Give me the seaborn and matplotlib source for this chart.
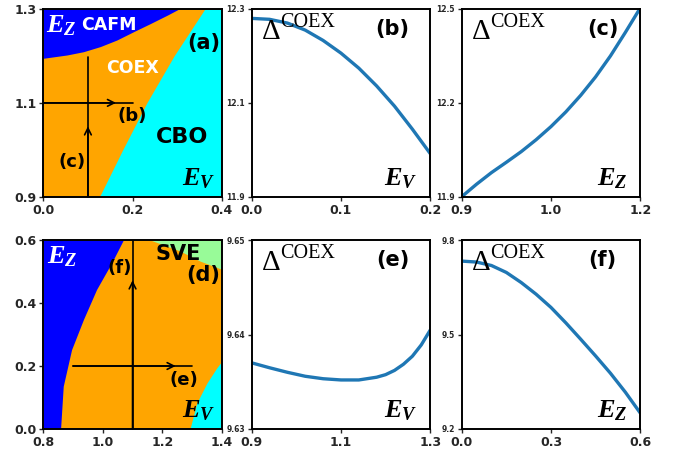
import numpy as np
import pandas as pd
import matplotlib
matplotlib.use("Agg")
import matplotlib.pyplot as plt
import seaborn as sns

# ---------------- data ----------------
# panel (a) phase boundaries (E_V, E_Z)
a_cafm_ev = [0.0, 0.053, 0.09, 0.128, 0.165, 0.203, 0.240, 0.278, 0.304]
a_cafm_ez = [1.195, 1.202, 1.209, 1.220, 1.234, 1.252, 1.269, 1.287, 1.300]
a_cbo_ez = [0.9, 1.0, 1.1, 1.2, 1.3]
a_cbo_ev = [0.126, 0.178, 0.232, 0.293, 0.362]

# panel (d) phase boundaries
d_afm_ez = [0.0, 0.136, 0.252, 0.348, 0.443, 0.528, 0.6]
d_afm_ev = [0.858, 0.867, 0.895, 0.935, 0.979, 1.030, 1.069]
d_sve_ev = [1.159, 1.26, 1.327, 1.4]
d_sve_ez = [0.6, 0.565, 0.533, 0.507]
d_cbo_ev = [1.293, 1.316, 1.35, 1.383, 1.4]
d_cbo_ez = [0.0, 0.083, 0.146, 0.194, 0.215]

# panel (b): Delta vs E_V at E_Z = 1.1
b_ev = [0.0, 0.02, 0.04, 0.06, 0.08, 0.1, 0.12, 0.14, 0.16, 0.18, 0.2]
b_delta = [12.280, 12.278, 12.270, 12.255, 12.233, 12.206, 12.174, 12.136,
           12.093, 12.044, 11.992]

# panel (c): Delta vs E_Z at E_V = 0.1
c_ez = [0.9, 0.925, 0.95, 0.975, 1.0, 1.025, 1.05, 1.075, 1.1, 1.125, 1.15, 1.175, 1.2]
c_delta = [11.900, 11.940, 11.977, 12.010, 12.044, 12.082, 12.124, 12.171, 12.224,
           12.283, 12.350, 12.425, 12.503]

# panel (e): Delta vs E_V at E_Z = 0.2
e_ev = [0.9, 0.94, 0.98, 1.02, 1.06, 1.1, 1.14, 1.18, 1.2, 1.22, 1.24, 1.26, 1.28, 1.3]
e_delta = [9.63700, 9.63648, 9.63600, 9.63558, 9.63532, 9.63519, 9.63519, 9.63548,
           9.63575, 9.63620, 9.63685, 9.63770, 9.63890, 9.64046]

# panel (f): Delta vs E_Z at E_V = 1.1
f_ez = [0.0, 0.05, 0.1, 0.15, 0.2, 0.25, 0.3, 0.35, 0.4, 0.45, 0.5, 0.55, 0.6]
f_delta = [9.733, 9.730, 9.719, 9.697, 9.665, 9.628, 9.586, 9.537, 9.485,
           9.432, 9.377, 9.317, 9.251]

# ---------------- style ----------------
sns.set_style("ticks")
plt.rcParams["font.family"] = ["DejaVu Sans"]
plt.rcParams["mathtext.fontset"] = "custom"
plt.rcParams["mathtext.it"] = "Liberation Serif:italic:bold"
plt.rcParams["mathtext.rm"] = "Liberation Serif"
plt.rcParams["mathtext.bf"] = "Liberation Serif:bold"
plt.rcParams["lines.solid_joinstyle"] = "round"

BLUE = "#0000ff"
ORANGE = "#ffa500"
CYAN = "#00ffff"
GREEN = "#98fb98"
LINE = "#1f77b4"

fig = plt.figure(figsize=(6.83, 4.53), dpi=100)

lefts = [43.3 / 683, 251.7 / 683, 461.7 / 683]
w = 178.5 / 683
h_top = 187.7 / 453
b_top = 1 - 196.7 / 453
h_bot = 189 / 453
b_bot = 1 - 429 / 453

axs = [[fig.add_axes([l, b_top, w, h_top]) for l in lefts],
       [fig.add_axes([l, b_bot, w, h_bot]) for l in lefts]]


def style_axis(ax, xt, xl, yt, yl, ysize):
    ax.set_xticks(xt)
    ax.set_xticklabels(xl, fontsize=9, fontweight="bold")
    ax.set_yticks(yt)
    ax.set_yticklabels(yl, fontsize=ysize, fontweight="bold")
    ax.tick_params(direction="out", length=3, width=1, pad=2)
    for s in ax.spines.values():
        s.set_linewidth(1.4)
        s.set_color("black")
        s.set_visible(True)
    ax.set_xlabel("")
    ax.set_ylabel("")


def arrow_line(ax, start, end, head):
    ax.plot([start[0], end[0]], [start[1], end[1]], color="black", lw=1.2, zorder=5)
    ax.annotate("", xy=head, xytext=start,
                arrowprops=dict(arrowstyle="->", color="black", lw=1.2,
                                mutation_scale=12, shrinkA=0, shrinkB=0), zorder=6)


EFS = 19  # size of E_V / E_Z labels

# ---------------- panel (a) ----------------
ax = axs[0][0]
ax.set_facecolor(ORANGE)
ax.fill_between(a_cafm_ev, a_cafm_ez, 1.3, color=BLUE, lw=0)
ax.fill_betweenx(a_cbo_ez, a_cbo_ev, 0.4, color=CYAN, lw=0)
ax.set_xlim(0, 0.4)
ax.set_ylim(0.9, 1.3)
arrow_line(ax, (0.0, 1.1), (0.2, 1.1), (0.163, 1.1))
arrow_line(ax, (0.1, 0.9), (0.1, 1.198), (0.1, 1.05))
ax.text(0.007, 1.266, r"$E_Z$", color="white", fontsize=EFS, ha="left", va="center")
ax.text(0.146, 1.266, "CAFM", color="white", fontsize=12.5, fontweight="bold", ha="center", va="center")
ax.text(0.36, 1.228, "(a)", color="black", fontsize=15, fontweight="bold", ha="center", va="center")
ax.text(0.199, 1.174, "COEX", color="white", fontsize=12.5, fontweight="bold", ha="center", va="center")
ax.text(0.199, 1.071, "(b)", color="black", fontsize=13, fontweight="bold", ha="center", va="center")
ax.text(0.064, 0.975, "(c)", color="black", fontsize=13, fontweight="bold", ha="center", va="center")
ax.text(0.311, 1.028, "CBO", color="black", fontsize=16, fontweight="bold", ha="center", va="center")
ax.text(0.966, 0.062, r"$E_V$", transform=ax.transAxes, color="black", fontsize=EFS,
        ha="right", va="baseline")
style_axis(ax, [0, 0.2, 0.4], ["0.0", "0.2", "0.4"], [0.9, 1.1, 1.3], ["0.9", "1.1", "1.3"], 9)

# ---------------- panel (d) ----------------
ax = axs[1][0]
ax.set_facecolor(ORANGE)
ax.fill_betweenx(d_afm_ez, 0.8, d_afm_ev, color=BLUE, lw=0)
ax.fill_between(d_sve_ev, d_sve_ez, 0.6, color=GREEN, lw=0)
ax.fill_between(d_cbo_ev, 0.0, d_cbo_ez, color=CYAN, lw=0)
ax.set_xlim(0.8, 1.4)
ax.set_ylim(0.0, 0.6)
arrow_line(ax, (0.9, 0.2), (1.3, 0.2), (1.245, 0.2))
arrow_line(ax, (1.1, 0.0), (1.1, 0.6), (1.1, 0.472))
ax.text(0.811, 0.547, r"$E_Z$", color="white", fontsize=EFS, ha="left", va="center")
ax.text(1.254, 0.555, "SVE", color="black", fontsize=15, fontweight="bold", ha="center", va="center")
ax.text(1.338, 0.489, "(d)", color="black", fontsize=15, fontweight="bold", ha="center", va="center")
ax.text(1.058, 0.51, "(f)", color="black", fontsize=13, fontweight="bold", ha="center", va="center")
ax.text(1.271, 0.156, "(e)", color="black", fontsize=13, fontweight="bold", ha="center", va="center")
ax.text(0.966, 0.062, r"$E_V$", transform=ax.transAxes, color="black", fontsize=EFS,
        ha="right", va="baseline")
style_axis(ax, [0.8, 1.0, 1.2, 1.4], ["0.8", "1.0", "1.2", "1.4"],
           [0.0, 0.2, 0.4, 0.6], ["0.0", "0.2", "0.4", "0.6"], 9)

# ---------------- line panels ----------------
line_specs = [
    (axs[0][1], b_ev, b_delta, (0, 0.2), (11.9, 12.3), [0, 0.1, 0.2], ["0.0", "0.1", "0.2"],
     [11.9, 12.1, 12.3], ["11.9", "12.1", "12.3"], "(b)", r"$E_V$"),
    (axs[0][2], c_ez, c_delta, (0.9, 1.2), (11.9, 12.5), [0.9, 1.05, 1.2], ["0.9", "1.0", "1.2"],
     [11.9, 12.2, 12.5], ["11.9", "12.2", "12.5"], "(c)", r"$E_Z$"),
    (axs[1][1], e_ev, e_delta, (0.9, 1.3), (9.63, 9.65), [0.9, 1.1, 1.3], ["0.9", "1.1", "1.3"],
     [9.63, 9.64, 9.65], ["9.63", "9.64", "9.65"], "(e)", r"$E_V$"),
    (axs[1][2], f_ez, f_delta, (0.0, 0.6), (9.2, 9.8), [0.0, 0.3, 0.6], ["0.0", "0.3", "0.6"],
     [9.2, 9.5, 9.8], ["9.2", "9.5", "9.8"], "(f)", r"$E_Z$"),
]

for (ax, xs, ys, xlim, ylim, xt, xl, yt, yl, tag, field) in line_specs:
    df = pd.DataFrame({"x": xs, "y": ys})
    sns.lineplot(data=df, x="x", y="y", ax=ax, color=LINE, lw=2.4)
    ax.set_xlim(*xlim)
    ax.set_ylim(*ylim)
    ax.set_facecolor("white")
    ax.text(0.056, 0.84, "\u0394", transform=ax.transAxes, fontsize=21,
            family="Liberation Serif", ha="left", va="baseline", color="black")
    ax.text(0.158, 0.903, "COEX", transform=ax.transAxes, fontsize=14.5,
            family="Liberation Serif", ha="left", va="baseline", color="black")
    ax.text(0.79, 0.895, tag, transform=ax.transAxes, fontsize=15, fontweight="bold",
            ha="center", va="center", color="black")
    ax.text(0.93, 0.062, field, transform=ax.transAxes, fontsize=EFS,
            ha="right", va="baseline", color="black")
    style_axis(ax, xt, xl, yt, yl, 5.5)

fig.savefig("out.png", dpi=100)
